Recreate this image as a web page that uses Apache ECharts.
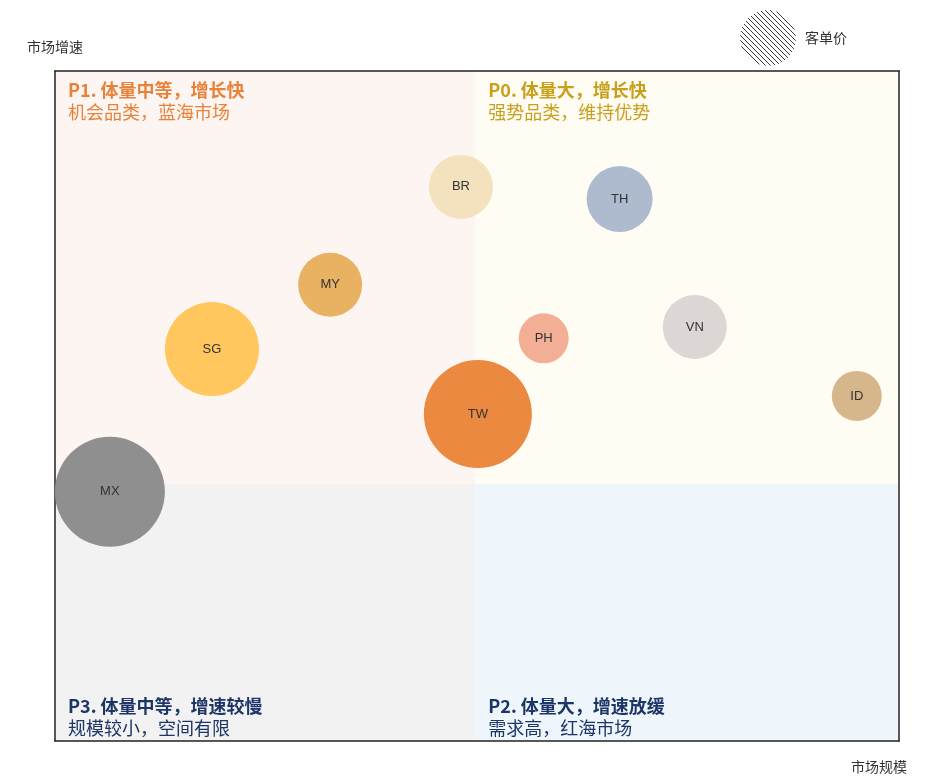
<!DOCTYPE html>
<html>
<head>
<meta charset="utf-8">
<script src="https://cdn.jsdelivr.net/npm/echarts@6/dist/echarts.min.js"></script>
<style>html,body{margin:0;padding:0;background:#fff}#c{width:937px;height:778px}</style>
</head>
<body>
<div id="c"></div>
<script>
// ---- data ----
var countries = ['BR', 'TH', 'MY', 'SG', 'PH', 'VN', 'ID', 'TW', 'MX'];
var marketSize = [48.1, 66.9, 32.6, 18.6, 57.9, 75.8, 95.0, 50.1, 6.5];    // 市场规模
var marketGrowth = [82.7, 80.9, 68.1, 58.5, 60.1, 61.8, 51.5, 48.8, 37.2];  // 市场增速
var unitPrice = [64, 66, 64, 94, 50, 64, 50, 108, 110];                      // 客单价 (bubble size)
var bubbleColors = ['#f3e2bd', '#aebacd', '#e9b162', '#ffc75e', '#f2af96', '#dcd7d4', '#d6b68b', '#ea893f', '#8f8f8f'];
var splitX = 49.8;
var splitY = 38.4;
var quadrants = [
  {title: 'P1. 体量中等，增长快', sub: '机会品类，蓝海市场', color: '#e8823a', bg: '#fcf5f1'},
  {title: 'P0. 体量大，增长快', sub: '强势品类，维持优势', color: '#c8a01c', bg: '#fffcf4'},
  {title: 'P3. 体量中等，增速较慢', sub: '规模较小，空间有限', color: '#1d3566', bg: '#f2f2f2'},
  {title: 'P2. 体量大，增速放缓', sub: '需求高，红海市场', color: '#1d3566', bg: '#eef6fc'}
];

// hatch pattern for legend
var T = 5;
var pc = document.createElement('canvas');
pc.width = T; pc.height = T;
var pctx = pc.getContext('2d');
pctx.fillStyle = '#ffffff'; pctx.fillRect(0, 0, T, T);
pctx.strokeStyle = '#3a3a3a'; pctx.lineWidth = 1;
pctx.beginPath();
pctx.moveTo(-1, -1); pctx.lineTo(T + 1, T + 1);
pctx.moveTo(-1, T - 1); pctx.lineTo(1, T + 1);
pctx.moveTo(T - 1, -1); pctx.lineTo(T + 1, 1);
pctx.stroke();

function qLabel(q, top) {
  return {
    show: true, position: top ? 'insideTopLeft' : 'insideBottomLeft', distance: 0,
    padding: top ? [8, 0, 0, 13] : [0, 0, 2, 13],
    formatter: '{t|' + q.title + '}\n{s|' + q.sub + '}',
    rich: {
      t: {fontSize: 18, fontWeight: 'bold', color: q.color, lineHeight: 22, fontFamily: 'Noto Sans CJK SC'},
      s: {fontSize: 18, color: q.color, lineHeight: 22, fontFamily: 'Noto Sans CJK SC'}
    }
  };
}

var chart = echarts.init(document.getElementById('c'));
var pts = countries.map(function (c, i) {
  return {name: c, value: [marketSize[i], marketGrowth[i], unitPrice[i]], itemStyle: {color: bubbleColors[i]}};
});
var axLine = {show: true, onZero: false, lineStyle: {color: '#222', width: 1.5}};
var nameFont = {fontSize: 14, color: '#333', fontFamily: 'Noto Sans CJK SC'};
chart.setOption({
  animation: false,
  grid: {left: 55, right: 38, top: 71, bottom: 37},
  legend: {
    data: ['客单价'], left: 735, top: 5, itemWidth: 56, itemHeight: 56, icon: 'circle',
    textStyle: {fontSize: 14, color: '#333', fontFamily: 'Noto Sans CJK SC', padding: [0, 0, 0, 4]}
  },
  xAxis: [
    {type: 'value', min: 0, max: 100, z: 2, axisLine: axLine, axisTick: {show: false}, axisLabel: {show: false}, splitLine: {show: false},
     name: '市场规模', nameLocation: 'end', nameGap: 8,
     nameTextStyle: Object.assign({align: 'right', verticalAlign: 'top', padding: [19, 0, 0, 0]}, nameFont)},
    {type: 'value', min: 0, max: 100, position: 'top', z: 2, axisLine: axLine, axisTick: {show: false}, axisLabel: {show: false}, splitLine: {show: false}}
  ],
  yAxis: [
    {type: 'value', min: 0, max: 100, z: 2, axisLine: axLine, axisTick: {show: false}, axisLabel: {show: false}, splitLine: {show: false},
     name: '市场增速', nameLocation: 'end', nameGap: 17, nameTextStyle: nameFont},
    {type: 'value', min: 0, max: 100, position: 'right', z: 2, axisLine: axLine, axisTick: {show: false}, axisLabel: {show: false}, splitLine: {show: false}}
  ],
  series: [
    {
      type: 'scatter', name: 'quadrants', z: 1, data: [], silent: true,
      markArea: {
        silent: true,
        data: [
          [{xAxis: 0, yAxis: 100, itemStyle: {color: quadrants[0].bg}, label: qLabel(quadrants[0], true)}, {xAxis: splitX, yAxis: splitY}],
          [{xAxis: splitX, yAxis: 100, itemStyle: {color: quadrants[1].bg}, label: qLabel(quadrants[1], true)}, {xAxis: 100, yAxis: splitY}],
          [{xAxis: 0, yAxis: splitY, itemStyle: {color: quadrants[2].bg}, label: qLabel(quadrants[2], false)}, {xAxis: splitX, yAxis: 0}],
          [{xAxis: splitX, yAxis: splitY, itemStyle: {color: quadrants[3].bg}, label: qLabel(quadrants[3], false)}, {xAxis: 100, yAxis: 0}]
        ]
      }
    },
    {
      type: 'scatter', name: '客单价', z: 3, clip: false,
      itemStyle: {color: {image: pc, repeat: 'repeat'}, opacity: 1},
      symbolSize: function (v) { return v[2]; },
      data: pts,
      label: {show: true, position: 'inside', formatter: '{b}', fontSize: 13, color: '#333', fontFamily: 'Liberation Sans'}
    }
  ]
});
</script>
</body>
</html>
